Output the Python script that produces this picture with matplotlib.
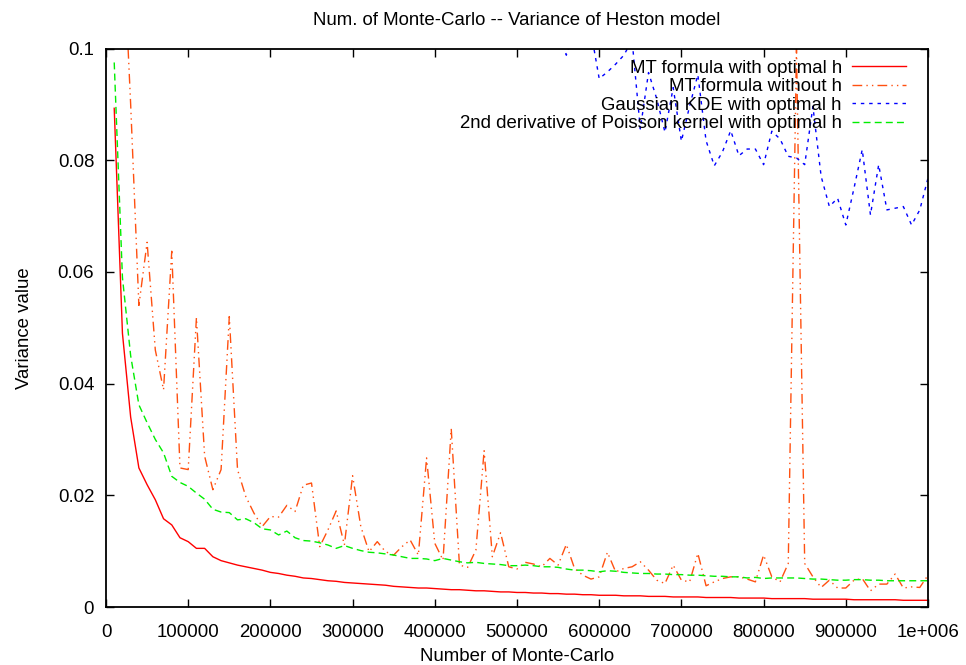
import matplotlib
matplotlib.use("Agg")
import matplotlib.pyplot as plt
import numpy as np

plt.rcParams['font.family'] = ['Liberation Sans', 'DejaVu Sans']

# ---- data ----
n_red = list(range(10000, 1000001, 10000))
mt_opt = [0.0893, 0.049, 0.034, 0.0249, 0.0219, 0.0192, 0.0158, 0.0147, 0.0124, 0.0117,
          0.0105, 0.0105, 0.0090, 0.0083, 0.0079, 0.0075, 0.0072, 0.0069, 0.0066, 0.0062,
          0.0060, 0.0057, 0.0055, 0.0052, 0.0051, 0.0049, 0.0047, 0.0046, 0.0044, 0.0043,
          0.0042, 0.0041, 0.0040, 0.0039, 0.0037, 0.0036, 0.0035, 0.0034, 0.0034, 0.0033,
          0.0032, 0.0031, 0.0031, 0.0030, 0.0029, 0.0029, 0.0028, 0.0027, 0.0027, 0.0026,
          0.0026, 0.0025, 0.0025, 0.0024, 0.0024, 0.0023, 0.0023, 0.0022, 0.0022, 0.0021,
          0.0021, 0.0021, 0.0020, 0.0020, 0.0020, 0.0019, 0.0019, 0.0019, 0.0018, 0.0018,
          0.0018, 0.0018, 0.0017, 0.0017, 0.0017, 0.0017, 0.0016, 0.0016, 0.0016, 0.0016,
          0.0015, 0.0015, 0.0015, 0.0015, 0.0015, 0.0014, 0.0014, 0.0014, 0.0014, 0.0014,
          0.0013, 0.0013, 0.0013, 0.0013, 0.0013, 0.0013, 0.0012, 0.0012, 0.0012, 0.0012]

n_orange = list(range(20000, 1000001, 10000))
mt_noh = [0.122, 0.090, 0.054, 0.0653, 0.046, 0.0389, 0.0637, 0.0249, 0.0246,
          0.0518, 0.027, 0.021, 0.0246, 0.052, 0.0246, 0.0198, 0.0168, 0.0144, 0.0162,
          0.0161, 0.0182, 0.0171, 0.0218, 0.0222, 0.0108, 0.0138, 0.0172, 0.0111, 0.0235,
          0.0144, 0.0099, 0.0117, 0.0099, 0.0093, 0.0108, 0.0120, 0.0093, 0.0267, 0.0114,
          0.0084, 0.0319, 0.0075, 0.0071, 0.0102, 0.0280, 0.0090, 0.0133, 0.0072, 0.0068,
          0.0080, 0.0077, 0.0072, 0.0087, 0.0075, 0.0112, 0.0069, 0.0057, 0.0050, 0.0054,
          0.0098, 0.0063, 0.0069, 0.0072, 0.0081, 0.0066, 0.0048, 0.0042, 0.0075, 0.0048,
          0.0045, 0.0096, 0.0038, 0.0045, 0.0051, 0.0054, 0.0054, 0.0050, 0.0045, 0.0093,
          0.0054, 0.0045, 0.0078, 0.1000, 0.0078, 0.0054, 0.0035, 0.0048, 0.0034, 0.0034,
          0.0048, 0.0051, 0.0029, 0.0041, 0.0041, 0.0059, 0.0034, 0.0036, 0.0035, 0.0057]

n_blue = list(range(550000, 1000001, 10000))
kde_opt = [0.105, 0.0988, 0.104, 0.106, 0.103, 0.0946, 0.0958, 0.0972, 0.0988, 0.1015,
           0.0856, 0.0957, 0.0910, 0.0850, 0.0930, 0.0834, 0.0897, 0.0953, 0.0835, 0.0790,
           0.0815, 0.0853, 0.0808, 0.0820, 0.0820, 0.0792, 0.0852, 0.0838, 0.0807, 0.0804,
           0.0792, 0.0896, 0.0771, 0.0717, 0.0732, 0.0684, 0.0750, 0.0819, 0.0702, 0.0792,
           0.0711, 0.0714, 0.0717, 0.0684, 0.0711, 0.0768]

n_green = list(range(10000, 1000001, 10000))
poisson_opt = [0.0975, 0.059, 0.045, 0.0362, 0.033, 0.030, 0.0276, 0.0234, 0.0223, 0.0216,
               0.0204, 0.0193, 0.0175, 0.0170, 0.0169, 0.0156, 0.0158, 0.0151, 0.0140, 0.0138,
               0.0129, 0.0136, 0.0124, 0.0119, 0.0118, 0.0115, 0.0111, 0.0105, 0.0110, 0.0105,
               0.0101, 0.0098, 0.0097, 0.0095, 0.0093, 0.0090, 0.0087, 0.0087, 0.0086, 0.0083,
               0.0087, 0.0084, 0.0081, 0.0079, 0.0080, 0.0078, 0.0077, 0.0076, 0.0074, 0.0074,
               0.0075, 0.0074, 0.0072, 0.0072, 0.0071, 0.0068, 0.0066, 0.0066, 0.0065, 0.0063,
               0.0065, 0.0064, 0.0062, 0.0061, 0.0060, 0.0060, 0.0059, 0.0059, 0.0058, 0.0058,
               0.0057, 0.0057, 0.0056, 0.0055, 0.0055, 0.0054, 0.0054, 0.0052, 0.0053, 0.0051,
               0.0052, 0.0052, 0.0052, 0.0052, 0.0051, 0.0050, 0.0050, 0.0049, 0.0048, 0.0048,
               0.0049, 0.0049, 0.0048, 0.0048, 0.0047, 0.0047, 0.0047, 0.0047, 0.0047, 0.0047]

x_ticks = [0, 100000, 200000, 300000, 400000, 500000, 600000, 700000, 800000, 900000, 1000000]
x_tick_labels = ["0", "100000", "200000", "300000", "400000", "500000", "600000",
                 "700000", "800000", "900000", "1e+006"]
y_ticks = [0, 0.02, 0.04, 0.06, 0.08, 0.1]
y_tick_labels = ["0", "0.02", "0.04", "0.06", "0.08", "0.1"]

labels = ["MT formula with optimal h", "MT formula without h",
          "Gaussian KDE with optimal h", "2nd derivative of Poisson kernel with optimal h"]

FS = 13.4

# ---- figure ----
W, H = 966, 665
fig = plt.figure(figsize=(W/100, H/100), dpi=100)
ax = fig.add_axes([106/W, 1-607/H, (928-106)/W, (607-48.5)/H])

ax.plot(n_red, mt_opt, color='#ff0000', lw=1.0, ls='-', label=labels[0])
ax.plot(n_orange, mt_noh, color='#ff5010', lw=1.0, ls=(0, (7, 3, 1, 3, 1, 3)), label=labels[1])
ax.plot(n_blue, kde_opt, color='#0000ff', lw=1.0, ls=(0, (2.5, 3.5)), label=labels[2])
ax.plot(n_green, poisson_opt, color='#00ee00', lw=1.0, ls=(0, (5, 3)), label=labels[3])

ax.set_xlim(0, 1000000)
ax.set_ylim(0, 0.1)
ax.set_xticks(x_ticks)
ax.set_xticklabels(x_tick_labels)
ax.set_yticks(y_ticks)
ax.set_yticklabels(y_tick_labels)
ax.tick_params(direction='in', length=6, width=1, top=True, right=True,
               labelsize=FS, color='black')
ax.tick_params(axis='x', pad=12)
ax.tick_params(axis='y', pad=8.5)
for s in ax.spines.values():
    s.set_linewidth(1.3)

ax.set_title("Num. of Monte-Carlo -- Variance of Heston model", fontsize=FS, pad=17)
ax.set_xlabel("Number of Monte-Carlo", fontsize=FS, labelpad=5)
ax.set_ylabel("Variance value", fontsize=FS, labelpad=18)

leg = ax.legend(loc='upper right', frameon=False, markerfirst=False, fontsize=FS,
                handlelength=2.9, handletextpad=0.55, labelspacing=0.08,
                borderaxespad=0, borderpad=0,
                bbox_to_anchor=(906/W, 1-59.5/H), bbox_transform=fig.transFigure)
for t in leg.get_texts():
    t.set_ha('right')

fig.savefig("out.png", dpi=100)
